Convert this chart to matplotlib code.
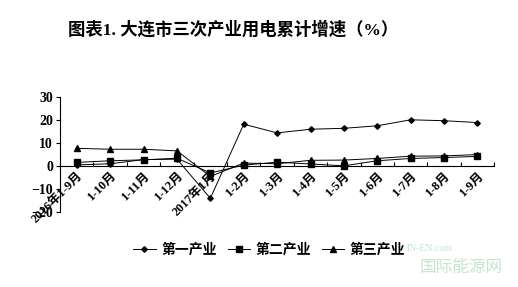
import matplotlib.pyplot as plt
import numpy as np

plt.rcParams['font.family'] = ['Liberation Serif', 'Noto Sans CJK SC', 'DejaVu Sans']

months = ['2016年1-9月', '1-10月', '1-11月', '1-12月', '2017年1月', '1-2月', '1-3月',
          '1-4月', '1-5月', '1-6月', '1-7月', '1-8月', '1-9月']
primary = [0.5, 1.0, 2.8, 3.0, -14.0, 18.2, 14.4, 16.0, 16.4, 17.5, 20.1, 19.7, 18.9]
secondary = [1.6, 2.3, 2.7, 3.4, -3.0, 0.4, 1.7, 0.9, 0.1, 2.3, 3.3, 3.7, 4.2]
tertiary = [7.7, 7.3, 7.3, 6.6, -4.5, 1.3, 1.0, 2.5, 2.6, 3.3, 4.3, 4.4, 5.0]
series_names = ['第一产业', '第二产业', '第三产业']

fig = plt.figure(figsize=(5.18, 2.87), dpi=100)
ax = fig.add_axes([0.116, 0.261, 0.838, 0.401])

x = np.arange(len(months))
ax.plot(x, primary, color='black', lw=0.7, marker='D', ms=2.8, label=series_names[0])
ax.plot(x, secondary, color='black', lw=0.7, marker='s', ms=3.8, label=series_names[1])
ax.plot(x, tertiary, color='black', lw=0.7, marker='^', ms=4.5, label=series_names[2])

ax.set_xlim(-0.5, len(months) - 0.5)
ax.set_ylim(-20, 30)
ax.set_yticks([-20, -10, 0, 10, 20, 30])
for lab in ax.get_yticklabels():
    lab.set_fontweight('bold')
    lab.set_fontsize(10)

ax.spines['top'].set_visible(False)
ax.spines['right'].set_visible(False)
ax.spines['bottom'].set_position(('data', 0))
ax.spines['left'].set_linewidth(0.8)
ax.spines['bottom'].set_linewidth(0.8)
ax.tick_params(axis='y', direction='out', length=3, width=0.8, pad=2)

ax.set_xticks(x)
ax.set_xticklabels(months, rotation=45, ha='right', rotation_mode='anchor',
                   fontsize=9, fontweight='bold')
ax.tick_params(axis='x', which='major', length=0, pad=3)
ax.set_xticks(np.arange(-0.5, len(months), 1), minor=True)
ax.tick_params(axis='x', which='minor', direction='in', length=3, width=0.8)

fig.text(0.131, 0.895, '图表1. 大连市三次产业用电累计增速（%）', fontsize=12.5,
         fontweight='bold', ha='left', va='center')

leg = fig.legend(loc='center', bbox_to_anchor=(0.52, 0.128), ncol=3, frameon=False,
                 prop={'weight': 'bold', 'size': 10}, handlelength=1.6,
                 columnspacing=0.8, handletextpad=0.4)

fig.text(0.97, 0.04, '国际能源网', fontsize=12, color='#b9dcc4', ha='right',
         va='bottom', alpha=0.8)
fig.text(0.83, 0.12, 'IN-EN.com', fontsize=7, color='#b9dcc4', ha='center',
         va='bottom', alpha=0.8)

fig.savefig('out.png', dpi=100)
